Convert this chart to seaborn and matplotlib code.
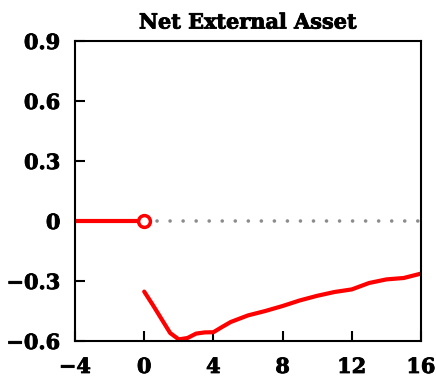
import numpy as np
import pandas as pd
import matplotlib
matplotlib.use("Agg")
import matplotlib.pyplot as plt
import matplotlib.patheffects as pe
import seaborn as sns

# Pre-shock periods and impulse response of net external assets
pre_x = [-4, -3, -2, -1, 0]
pre_y = [0.0, 0.0, 0.0, 0.0, 0.0]

resp_x = [0, 0.5, 1, 1.5, 2, 2.5, 3, 3.5, 4, 4.5, 5, 6, 7, 8, 9, 10, 11, 12, 13, 14, 15, 16]
resp_y = [-0.353, -0.42, -0.49, -0.56, -0.592, -0.585, -0.563, -0.557, -0.556, -0.53,
          -0.505, -0.472, -0.45, -0.425, -0.397, -0.374, -0.355, -0.342, -0.31, -0.292,
          -0.285, -0.263]

zero_x = [0, 16]
zero_y = [0, 0]

xticks = [-4, 0, 4, 8, 12, 16]
yticks = [-0.6, -0.3, 0, 0.3, 0.6, 0.9]
yticklabels = ["\u22120.6", "\u22120.3", "0", "0.3", "0.6", "0.9"]

sns.set_style("white")
plt.rcParams["font.family"] = ["DejaVu Serif"]
plt.rcParams["font.weight"] = "bold"
plt.rcParams["text.color"] = "black"
plt.rcParams["xtick.color"] = "black"
plt.rcParams["ytick.color"] = "black"
plt.rcParams["axes.labelcolor"] = "black"

fig = plt.figure(figsize=(4.36, 3.83), dpi=100)
ax = fig.add_axes([75 / 436, 1 - 341 / 383, (421 - 75) / 436, (341 - 41) / 383])

sns.lineplot(x=zero_x, y=zero_y, ax=ax, color="#8c8c8c", linewidth=2.6,
             linestyle=(0, (0.01, 3.6)))
ax.lines[-1].set_dash_capstyle("round")
sns.lineplot(x=pre_x, y=pre_y, ax=ax, color="red", linewidth=3)
sns.lineplot(x=resp_x, y=resp_y, ax=ax, color="red", linewidth=3)
ax.plot([0], [0], marker="o", markersize=8.5, markerfacecolor="white",
        markeredgecolor="red", markeredgewidth=2.5, linestyle="none", zorder=5)

ax.set_xlim(-4, 16)
ax.set_ylim(-0.6, 0.9)
ax.set_xticks(xticks)
ax.set_xticklabels([("\u2212" + str(-t)) if t < 0 else str(t) for t in xticks])
ax.set_yticks(yticks)
ax.set_yticklabels(yticklabels)
ax.tick_params(direction="in", length=7, width=1.5, labelsize=15,
               left=True, bottom=True, right=False, top=False)
ax.tick_params(axis="y", pad=10.5)
ax.tick_params(axis="x", pad=11.5)

heavy = [pe.withStroke(linewidth=0.6, foreground="black")]
for lab in ax.get_xticklabels() + ax.get_yticklabels():
    lab.set_fontweight("bold")
    lab.set_path_effects(heavy)
for s in ax.spines.values():
    s.set_linewidth(1.5)
    s.set_color("black")
title = ax.set_title("Net External Asset", fontsize=15, fontweight="bold", pad=9)
title.set_path_effects(heavy)

fig.savefig("out.png", dpi=100)
